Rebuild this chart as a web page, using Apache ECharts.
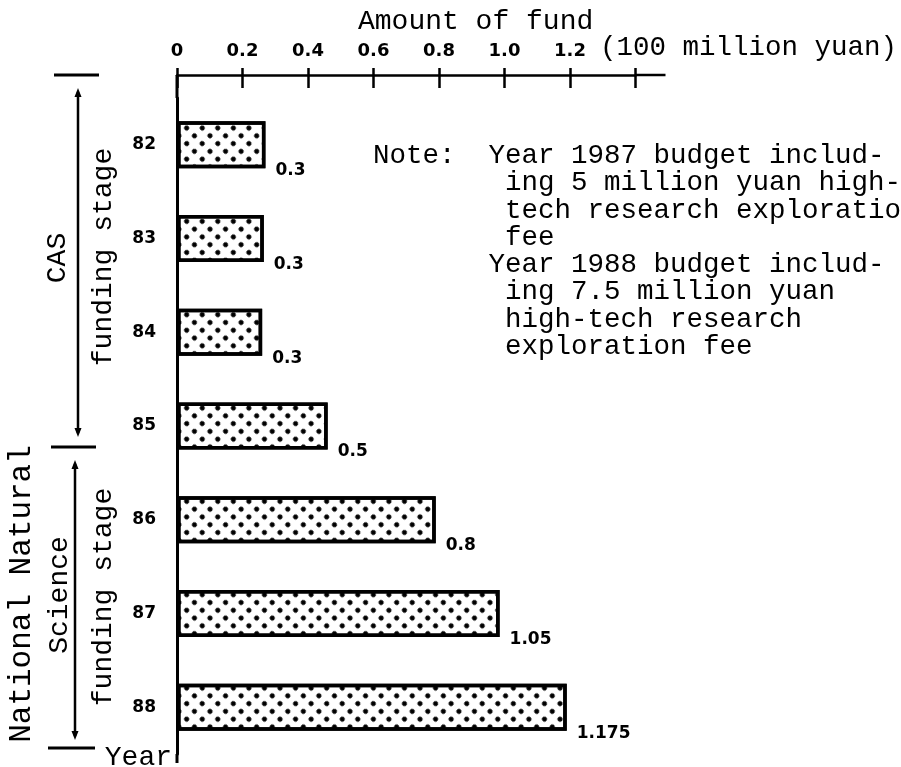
<!DOCTYPE html>
<html>
<head>
<meta charset="utf-8">
<script src="https://cdn.jsdelivr.net/npm/echarts@6/dist/echarts.min.js"></script>
<style>
  html, body { margin: 0; padding: 0; background: #fff; }
  #chart { width: 901px; height: 767px; }
</style>
</head>
<body>
<div id="chart"></div>
<script>
// ---- data ----
const categories = ['82', '83', '84', '85', '86', '87', '88'];
const barValues = [0.27, 0.265, 0.26, 0.46, 0.79, 0.985, 1.19];      // bar lengths as drawn
const valueLabels = ['0.3', '0.3', '0.3', '0.5', '0.8', '1.05', '1.175']; // printed labels
const axisMin = 0, axisMax = 1.4, axisStep = 0.2;
const axisTitle = 'Amount of fund';
const axisUnit = '(100 million yuan)';
const noteText = [
  'Note:  Year 1987 budget includ-',
  '        ing 5 million yuan high-',
  '        tech research exploration',
  '        fee',
  '       Year 1988 budget includ-',
  '        ing 7.5 million yuan',
  '        high-tech research',
  '        exploration fee'
];
const groupCAS = ['CAS', 'funding stage'];
const groupNNS = ['National Natural', 'Science', 'funding stage'];
const yearLabel = 'Year';

// ---- layout ----
const G = { left: 177, top: 98, width: 458.5, height: 656 };
const axisY = 75;
const MONO = '"Liberation Mono", "Courier New", "DejaVu Sans Mono", monospace';
const NUM = '"DejaVu Sans", "Liberation Sans", sans-serif';
const INK = '#000';

const chart = echarts.init(document.getElementById('chart'));

function line(x1, y1, x2, y2, w) {
  return { type: 'line', shape: { x1, y1, x2, y2 }, style: { stroke: INK, lineWidth: w || 2.5 }, z: 10 };
}
function arrowV(x, y1, y2) {
  return [
    line(x, y1 + 4, x, y2 - 4, 2.5),
    { type: 'polygon', shape: { points: [[x, y1], [x - 3.5, y1 + 9], [x + 3.5, y1 + 9]] }, style: { fill: INK }, z: 10 },
    { type: 'polygon', shape: { points: [[x, y2], [x - 3.5, y2 - 9], [x + 3.5, y2 - 9]] }, style: { fill: INK }, z: 10 }
  ];
}
function vtext(t, x, y, size) {
  return {
    type: 'text', x, y, rotation: Math.PI / 2, z: 10,
    style: { text: t, fill: INK, fontFamily: MONO, fontSize: size || 28, textAlign: 'center', textVerticalAlign: 'middle' }
  };
}
function htext(t, x, y, align, vAlign, size, extra) {
  return {
    type: 'text', x, y, z: 10,
    style: Object.assign({ text: t, fill: INK, fontFamily: MONO, fontSize: size || 28, textAlign: align, textVerticalAlign: vAlign }, extra || {})
  };
}

const graphics = [
  // extensions of the axes
  line(G.left, axisY, G.left, G.top, 3),
  line(G.left, G.top + G.height, G.left, G.top + G.height + 9, 3),
  line(G.left + G.width, axisY, G.left + G.width + 30, axisY, 2.5),
  // bracket bars
  line(54, 75, 99, 75, 3),
  line(51, 447, 96, 447, 3),
  line(48, 748, 95, 748, 3),
  ...arrowV(78, 88, 437),
  ...arrowV(75, 460, 740),
  vtext(groupCAS[0], 58, 258),
  vtext(groupCAS[1], 104, 257),
  vtext(groupNNS[0], 22, 594, 31),
  vtext(groupNNS[1], 60, 595),
  vtext(groupNNS[2], 104, 597),
  htext(yearLabel, 172, 758, 'right', 'middle', 28),
  htext(axisTitle, 358, 22, 'left', 'middle', 28),
  htext(axisUnit, 600, 48, 'left', 'middle', 27.5),
  htext(noteText.join('\n'), 373, 142, 'left', 'top', 27.5, { lineHeight: 27.3 })
];

const option = {
  backgroundColor: '#fff',
  animation: false,
  grid: { left: G.left, top: G.top, width: G.width, height: G.height, containLabel: false },
  xAxis: [
    {
      type: 'value', position: 'top', offset: G.top - axisY,
      min: axisMin, max: axisMax, interval: axisStep,
      axisLine: { show: true, lineStyle: { color: INK, width: 2.5 } },
      axisTick: { show: true, inside: true, length: 13, lineStyle: { color: INK, width: 2.5 } },
      splitLine: { show: false },
      axisLabel: {
        show: true, margin: 15, color: INK, fontFamily: NUM, fontWeight: 'bold', fontSize: 18,
        formatter: v => (Math.abs(v - axisMax) < 1e-9 ? '' : (v === 0 ? '0' : v.toFixed(1)))
      }
    },
    {
      type: 'value', position: 'top', offset: G.top - axisY,
      min: axisMin, max: axisMax, interval: axisStep,
      axisLine: { show: false },
      axisTick: { show: true, inside: false, length: 7, lineStyle: { color: INK, width: 2.5 } },
      splitLine: { show: false },
      axisLabel: { show: false }
    }
  ],
  yAxis: {
    type: 'category', inverse: true, data: categories,
    axisLine: { show: true, lineStyle: { color: INK, width: 3 } },
    axisTick: { show: false },
    axisLabel: {
      color: INK, fontFamily: NUM, fontWeight: 'bold', fontSize: 17, margin: 21,
      verticalAlign: 'middle', padding: [50, 0, 0, 0]
    }
  },
  series: [{
    type: 'bar', xAxisIndex: 0, data: barValues, barWidth: 47,
    itemStyle: {
      color: '#fff', borderColor: INK, borderWidth: 3.5,
      decal: {
        symbol: 'circle', symbolSize: 1, color: INK,
        dashArrayX: [4.5, 5.5], dashArrayY: [4.5, 5.5], rotation: Math.PI / 4
      }
    },
    label: {
      show: true, position: 'right', distance: 10, offset: [0, 26],
      color: INK, fontFamily: NUM, fontWeight: 'bold', fontSize: 17,
      formatter: p => valueLabels[p.dataIndex]
    }
  }],
  graphic: graphics
};
chart.setOption(option);
</script>
</body>
</html>
